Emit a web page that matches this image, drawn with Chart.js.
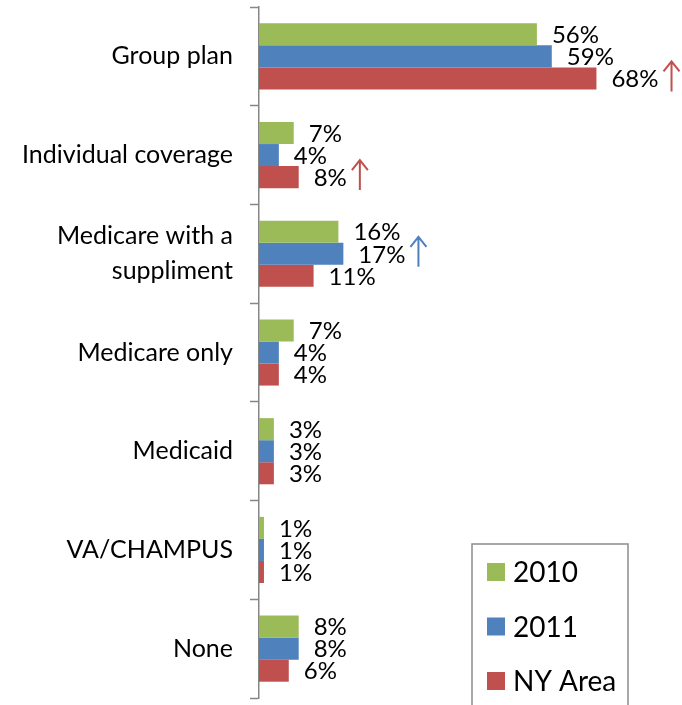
<!DOCTYPE html>
<html>
<head>
<meta charset="utf-8">
<script src="https://cdn.jsdelivr.net/npm/chart.js@4"></script>
<style>
  html, body { margin: 0; padding: 0; background: #fff; }
  #wrap { width: 682px; height: 705px; }
</style>
</head>
<body>
<div id="wrap"><canvas id="coverageChart"></canvas></div>
<script>
const categories = ['Group plan', 'Individual coverage', ['Medicare with a', 'suppliment'], 'Medicare only', 'Medicaid', 'VA/CHAMPUS', 'None'];
const seriesNames = ['2010', '2011', 'NY Area'];
const values2010 = [56, 7, 16, 7, 3, 1, 8];
const values2011 = [59, 4, 17, 4, 3, 1, 8];
const valuesNY = [68, 8, 11, 4, 3, 1, 6];
// [category index, series index] of bars marked with an up arrow
const upArrows = [[0, 2], [1, 2], [2, 1]];

const colors = ['#9BBB59', '#4F81BD', '#C0504D'];
const FONT = 'Lato, "Open Sans", sans-serif';
const VALUE_FONT = '24px ' + FONT;

// value text to the right of every bar
const valueLabels = {
  id: 'valueLabels',
  afterDatasetsDraw(chart) {
    const ctx = chart.ctx;
    ctx.save();
    ctx.font = VALUE_FONT;
    ctx.fillStyle = '#000';
    ctx.textAlign = 'left';
    ctx.textBaseline = 'middle';
    chart.data.datasets.forEach((ds, d) => {
      chart.getDatasetMeta(d).data.forEach((bar, i) => {
        ctx.fillText(ds.data[i] + '%', bar.x + 15, bar.y + 1);
      });
    });
    ctx.restore();
  }
};

// thin up arrows after some of the value labels
const arrowMarks = {
  id: 'arrowMarks',
  afterDatasetsDraw(chart) {
    const ctx = chart.ctx;
    ctx.save();
    ctx.font = VALUE_FONT;
    ctx.lineWidth = 2;
    upArrows.forEach(([i, d]) => {
      const bar = chart.getDatasetMeta(d).data[i];
      const w = ctx.measureText(chart.data.datasets[d].data[i] + '%').width;
      const x = bar.x + 15 + w + 13;
      const yc = bar.y - 2;
      ctx.strokeStyle = colors[d];
      ctx.beginPath();
      ctx.moveTo(x, yc + 15);
      ctx.lineTo(x, yc - 15);
      ctx.moveTo(x - 8, yc - 5);
      ctx.lineTo(x, yc - 15);
      ctx.lineTo(x + 8, yc - 5);
      ctx.stroke();
    });
    ctx.restore();
  }
};

// boxed legend in the lower right corner
const boxLegend = {
  id: 'boxLegend',
  afterDraw(chart) {
    const ctx = chart.ctx;
    const left = chart.chartArea.left + 213;
    const top = 544;
    ctx.save();
    ctx.strokeStyle = '#8c8c8c';
    ctx.lineWidth = 1.5;
    ctx.strokeRect(left, top, 156, chart.height - top + 10);
    ctx.font = '28px ' + FONT;
    ctx.textBaseline = 'middle';
    ctx.textAlign = 'left';
    chart.data.datasets.forEach((ds, d) => {
      const cy = top + 28 + d * 54.5;
      ctx.fillStyle = ds.backgroundColor;
      ctx.fillRect(left + 15, cy - 9, 18, 18);
      ctx.fillStyle = '#000';
      ctx.fillText(ds.label, left + 41, cy + 1);
    });
    ctx.restore();
  }
};

function drawChart() {
  new Chart(document.getElementById('coverageChart'), {
    type: 'bar',
    data: {
      labels: categories,
      datasets: [values2010, values2011, valuesNY].map((vals, d) => ({
        label: seriesNames[d],
        data: vals,
        backgroundColor: colors[d],
        borderWidth: 0,
        categoryPercentage: 0.67,
        barPercentage: 1
      }))
    },
    options: {
      indexAxis: 'y',
      responsive: true,
      maintainAspectRatio: false,
      animation: false,
      layout: { padding: { top: 7, bottom: 7, right: 26, left: 0 } },
      plugins: {
        legend: { display: false },
        tooltip: { enabled: false }
      },
      scales: {
        x: {
          display: false,
          min: 0,
          max: 80
        },
        y: {
          afterFit(scale) {
            scale.width = 259;
            // categories run edge to edge; no room kept for half labels
            scale.paddingTop = 0;
            scale.paddingBottom = 0;
          },
          border: { display: true, color: '#868686', width: 1.5 },
          grid: {
            offset: true,
            drawOnChartArea: false,
            drawTicks: true,
            tickLength: 9,
            tickColor: '#868686',
            tickWidth: 1.5
          },
          ticks: {
            color: '#000',
            padding: 17,
            font: { family: FONT, size: 25, lineHeight: 1.4 }
          }
        }
      }
    },
    plugins: [valueLabels, arrowMarks, boxLegend]
  });
}

document.fonts.load('24px Lato').then(drawChart, drawChart);
</script>
</body>
</html>
